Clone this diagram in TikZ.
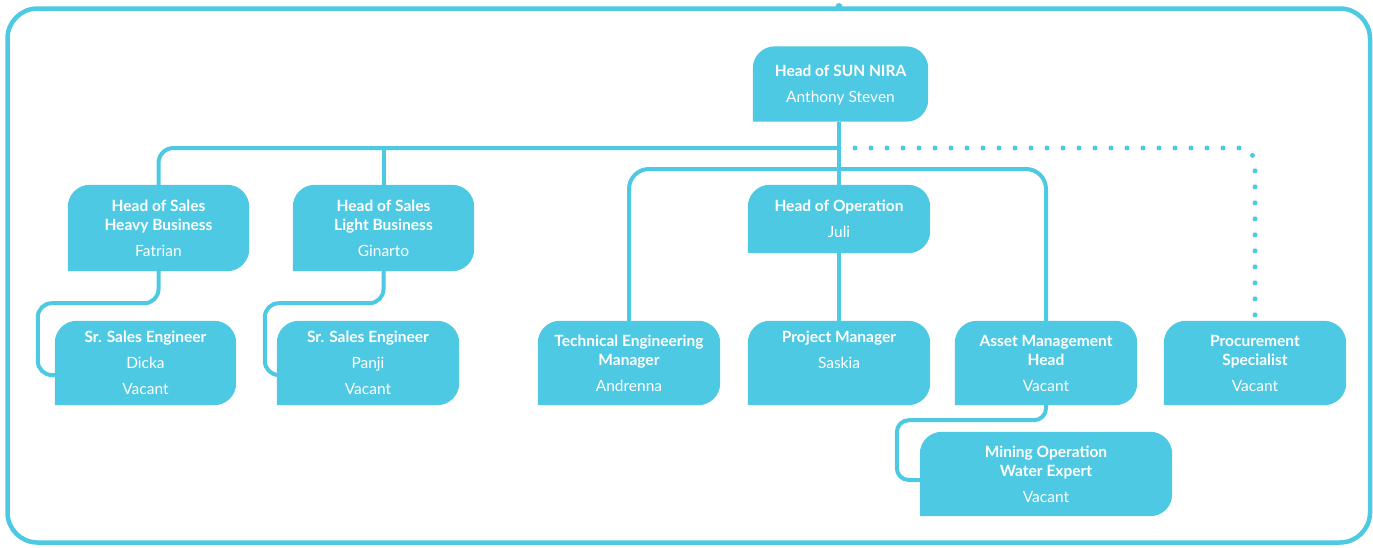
\documentclass[tikz,border=0pt]{standalone}
\usepackage{fontspec}
\setmainfont{Lato}
\usepackage{xcolor}
\usepackage{tikz}
\usetikzlibrary{backgrounds,positioning}
\definecolor{sunblue}{HTML}{4EC9E3}

\begin{document}
\begin{tikzpicture}[x=1pt,y=-1pt,
    card/.style={text=white, align=center, inner sep=0pt, minimum width=182, minimum height=84,
                 font=\fontsize{15.5}{19}\selectfont\bfseries},
    link/.style={draw=sunblue, line width=4pt},
    dotlink/.style={draw=sunblue, line width=5pt, line cap=round, dash pattern=on 0pt off 16pt},
    frame/.style={draw=sunblue, line width=4.5pt, rounded corners=30}]

    \useasboundingbox (0,0) rectangle (1373,547);
    \draw[frame] (7.5,8.5) rectangle (1370,542.5);
    \fill[sunblue] (839,6.5) circle (3.5);

    \node (head) [card, minimum width=175, minimum height=75, text depth=0pt] at (840.5,84)
        {Head of SUN NIRA\\[7pt]{\mdseries Anthony Steven}};

    \node (hsh) [card, minimum width=181, minimum height=86] at (158.5,228)
        {Head of Sales\\Heavy Business\\[7pt]{\mdseries Fatrian}};
    \node (hsl) [card, minimum width=181, minimum height=86] at (383.5,228)
        {Head of Sales\\Light Business\\[7pt]{\mdseries Ginarto}};
    \node (hop) [card, minimum height=68] at (839,219)
        {Head of Operation\\[7pt]{\mdseries Juli}};

    \node (sse1) [card, minimum width=181] at (145.5,363)
        {Sr. Sales Engineer\\[7pt]{\mdseries Dicka}\\[7pt]{\mdseries Vacant}};
    \node (sse2) [card] at (368,363)
        {Sr. Sales Engineer\\[7pt]{\mdseries Panji}\\[7pt]{\mdseries Vacant}};
    \node (tem) [card] at (629,363)
        {Technical Engineering\\Manager\\[7pt]{\mdseries Andrenna}};
    \node (pm) [card, text depth=26pt] at (839,363)
        {Project Manager\\[7pt]{\mdseries Saskia}};
    \node (amh) [card] at (1046,363)
        {Asset Management\\Head\\[7pt]{\mdseries Vacant}};
    \node (proc) [card] at (1255,363)
        {Procurement\\Specialist\\[7pt]{\mdseries Vacant}};
    \node (mow) [card, minimum width=252] at (1046,474)
        {Mining Operation\\Water Expert\\[7pt]{\mdseries Vacant}};

    \coordinate (bus) at (839,148);
    \coordinate (opbus) at (839,169);

    \begin{pgfonlayer}{background}
        % reporting lines
        \draw[link, rounded corners=15] (bus) -| (hsh.north);
        \draw[link] (hsl.north) -- (hsl.north |- bus);
        \draw[link] (head.south -| bus) -- (hop.north -| bus);
        \draw[link, rounded corners=20] (tem.north) |- (opbus) -| (amh.north);
        \draw[link] (hop.south) -- (pm.north);
        \draw[dotlink, rounded corners=16] (bus) -| (proc.north);
        \draw[link, rounded corners=14] (hsh.south) -- ++(0,32)
            -| ([xshift=-17,yshift=-12]sse1.west) -- ([yshift=-12]sse1.west);
        \draw[link, rounded corners=14] (hsl.south) -- ++(0,32)
            -| ([xshift=-12,yshift=-12]sse2.west) -- ([yshift=-12]sse2.west);
        \draw[link, rounded corners=12] (amh.south) -- ++(0,15)
            -| ([xshift=-23,yshift=-6]mow.west) -- ([yshift=-6]mow.west);

        % card backgrounds
        \foreach \n in {head,hsh,hsl,hop,sse1,sse2,tem,pm,amh,proc,mow}
            \fill[sunblue, rounded corners=22] (\n.south west) -- (\n.north west)
                -- (\n.north east) -- (\n.south east) -- (\n.south west);
    \end{pgfonlayer}

\end{tikzpicture}
\end{document}
